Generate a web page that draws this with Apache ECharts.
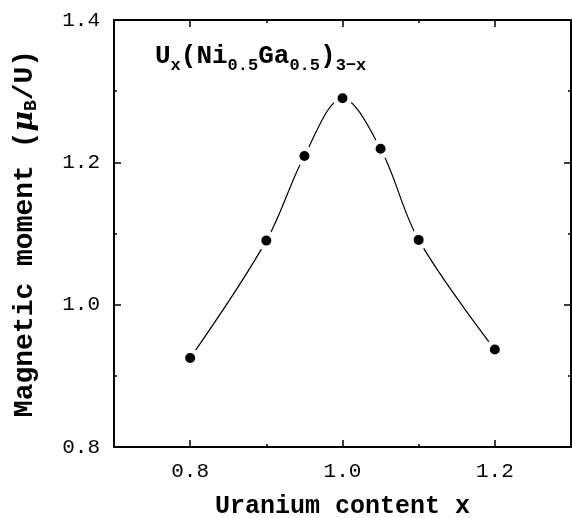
<!DOCTYPE html>
<html>
<head>
<meta charset="utf-8">
<script src="https://cdn.jsdelivr.net/npm/echarts@6/dist/echarts.min.js"></script>
<style>html,body{margin:0;padding:0;background:#fff}#c{width:572px;height:518px}</style>
</head>
<body>
<div id="c"></div>
<script>
const uraniumX = [0.8, 0.9, 0.95, 1.0, 1.05, 1.1, 1.2];
const moment = [0.925, 1.090, 1.209, 1.290, 1.219, 1.091, 0.937];
const xMajor = [0.8, 1.0, 1.2];
const xMinor = [0.9, 1.1];
const yMajor = [0.8, 1.0, 1.2, 1.4];
const yMinor = [0.9, 1.1, 1.3];

const chart = echarts.init(document.getElementById('c'), null, {renderer: 'canvas'});
const MONO = 'Liberation Mono';
const labelFont = {fontFamily: MONO, fontSize: 21, color: '#000'};
const nameFont = {fontFamily: MONO, fontWeight: 'bold', fontSize: 25, color: '#000'};
const yNameFont = {fontFamily: MONO, fontWeight: 'bold', fontSize: 28, color: '#000'};
function xAx(pos, ticks, len, showLine, showLabel, name) {
  return {
    type: 'value', position: pos, min: 0.7, max: 1.3,
    axisLine: {show: showLine, onZero: false, lineStyle: {color: '#000', width: 2}},
    axisTick: {show: true, inside: true, length: len, customValues: ticks, lineStyle: {color: '#000', width: 1.5}},
    axisLabel: {show: showLabel, customValues: ticks, margin: 14, formatter: v => v.toFixed(1), ...labelFont},
    splitLine: {show: false},
    name: name || '', nameLocation: 'middle', nameGap: 47, nameTextStyle: nameFont
  };
}
function yAx(pos, ticks, len, showLine, showLabel, name) {
  return {
    type: 'value', position: pos, min: 0.8, max: 1.4,
    axisLine: {show: showLine, onZero: false, lineStyle: {color: '#000', width: 2}},
    axisTick: {show: true, inside: true, length: len, customValues: ticks, lineStyle: {color: '#000', width: 1.5}},
    axisLabel: {show: showLabel, customValues: ticks, margin: 14, formatter: v => v.toFixed(1), ...labelFont},
    splitLine: {show: false},
    name: name || '', nameLocation: 'middle', nameGap: 74, nameRotate: 90,
    nameTextStyle: name ? {
      ...yNameFont,
      rich: {
        n: {...yNameFont},
        g: {...yNameFont, fontFamily: 'DejaVu Serif', fontStyle: 'italic'},
        s: {fontFamily: MONO, fontWeight: 'bold', fontSize: 18, color: '#000', verticalAlign: 'bottom', padding: [13, 0, 0, 0]}
      }
    } : nameFont
  };
}
chart.setOption({
  animation: false,
  backgroundColor: '#fff',
  grid: {left: 114, right: 1, top: 20, bottom: 71, containLabel: false, outerBoundsMode: 'none'},
  title: {
    left: 150, top: 38,
    text: '{m|U}{s|x}{m|(Ni}{s|0.5}{m|Ga}{s|0.5}{m|)}{s|3−x}',
    textStyle: {
      rich: {
        m: {fontFamily: MONO, fontWeight: 'bold', fontSize: 26, color: '#000', verticalAlign: 'top', lineHeight: 30},
        s: {fontFamily: MONO, fontWeight: 'bold', fontSize: 17, color: '#000', verticalAlign: 'top', lineHeight: 30, padding: [14, 0, 0, 0]}
      }
    }
  },
  xAxis: [
    xAx('bottom', xMajor, 7, true, true, 'Uranium content x'),
    xAx('bottom', xMinor, 3, false, false),
    xAx('top', xMajor, 7, true, false),
    xAx('top', xMinor, 3, false, false)
  ],
  yAxis: [
    yAx('left', yMajor, 7, true, true, '{n|Magnetic moment (}{g|μ}{s|B}{n|/U)}'),
    yAx('left', yMinor, 3, false, false),
    yAx('right', yMajor, 7, true, false),
    yAx('right', yMinor, 3, false, false)
  ],
  series: [{
    type: 'line',
    data: uraniumX.map((x, i) => [x, moment[i]]),
    smooth: 0.35,
    symbol: 'circle', symbolSize: 15,
    lineStyle: {color: '#000', width: 1.2},
    itemStyle: {color: '#000', borderColor: '#fff', borderWidth: 5},
    z: 5
  }]
});
</script>
</body>
</html>
